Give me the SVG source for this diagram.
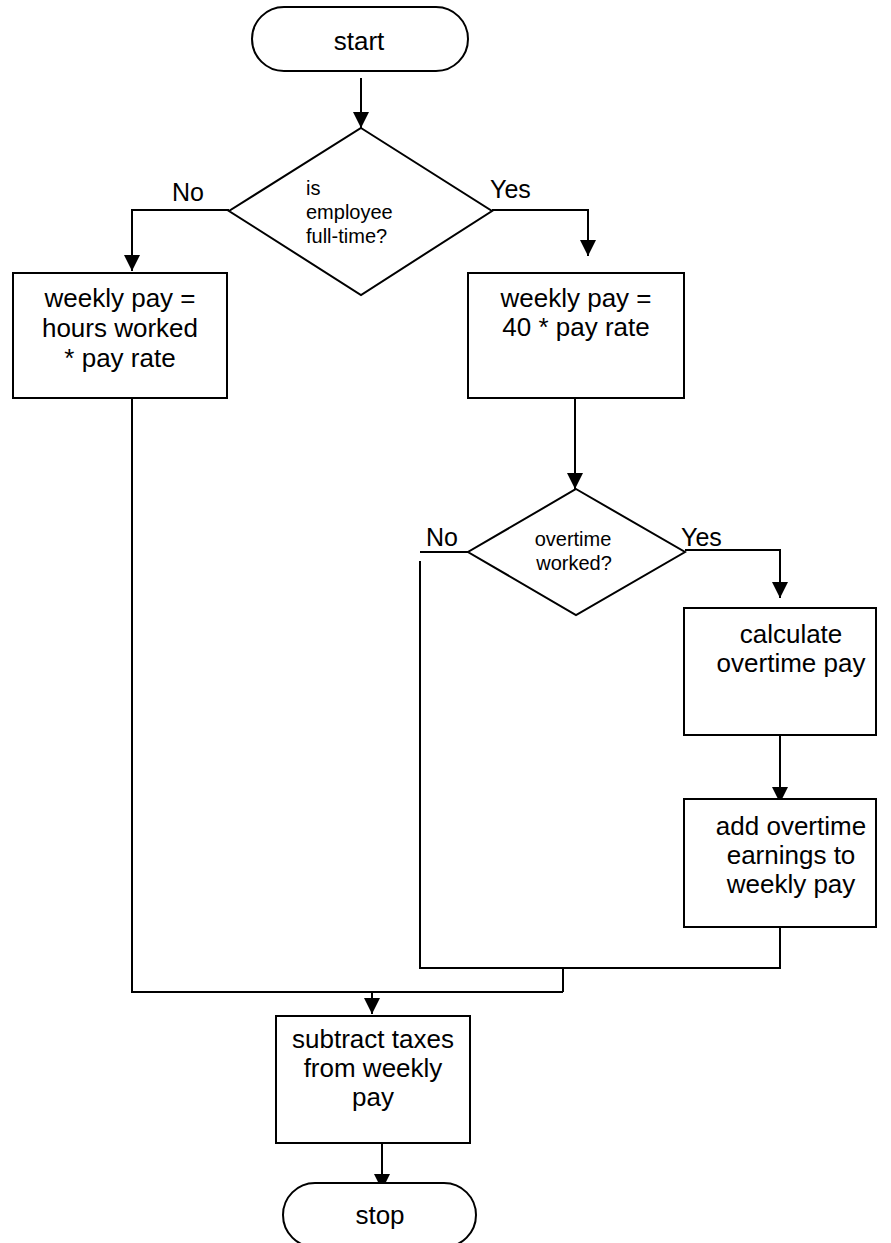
<svg xmlns="http://www.w3.org/2000/svg" width="891" height="1243" viewBox="0 0 891 1243">
  <style>
    .shape { fill: #ffffff; stroke: #000000; stroke-width: 2; }
    .line { fill: none; stroke: #000000; stroke-width: 2; }
    .txt { font-family: "Liberation Sans", Arial, sans-serif; font-size: 26px; fill: #000000; text-anchor: middle; }
    .small { font-family: "Liberation Sans", Arial, sans-serif; font-size: 20px; fill: #000000; }
    .label { font-family: "Liberation Sans", Arial, sans-serif; font-size: 25px; fill: #000000; }
  </style>
  <defs>
    <marker id="arrow" markerUnits="userSpaceOnUse" markerWidth="16" markerHeight="16" refX="16" refY="8" orient="auto">
      <path d="M0,0 L16,8 L0,16 z" fill="#000000"/>
    </marker>
  </defs>
  <rect width="891" height="1243" fill="#ffffff"/>

  <g id="connectors">
    <!-- start to decision -->
    <line class="line" x1="361" y1="78" x2="361" y2="128" marker-end="url(#arrow)"/>
    <!-- full-time? No -->
    <polyline class="line" points="229,210 132,210 132,271" marker-end="url(#arrow)"/>
    <!-- full-time? Yes -->
    <polyline class="line" points="492,210 588,210 588,256" marker-end="url(#arrow)"/>
    <!-- 40 * pay rate to overtime decision -->
    <line class="line" x1="575" y1="398" x2="575" y2="489" marker-end="url(#arrow)"/>
    <!-- overtime? Yes -->
    <polyline class="line" points="685,550 780,550 780,598" marker-end="url(#arrow)"/>
    <!-- overtime? No -->
    <line class="line" x1="468" y1="552" x2="420" y2="552"/>
    <polyline class="line" points="420,561 420,968 780,968 780,924"/>
    <!-- calculate to add -->
    <line class="line" x1="780" y1="735" x2="780" y2="803" marker-end="url(#arrow)"/>
    <!-- merge lines -->
    <line class="line" x1="563" y1="968" x2="563" y2="992"/>
    <polyline class="line" points="132,394 132,992 563,992"/>
    <line class="line" x1="372" y1="992" x2="372" y2="1014" marker-end="url(#arrow)"/>
    <!-- subtract to stop -->
    <line class="line" x1="382" y1="1143" x2="382" y2="1190" marker-end="url(#arrow)"/>
  </g>

  <g id="start">
    <rect class="shape" x="252" y="7" width="216" height="64" rx="32" ry="32"/>
    <text class="txt" x="359" y="50">start</text>
  </g>

  <g id="decision-fulltime">
    <polygon class="shape" points="361,128 492,211 361,295 229,211"/>
    <text class="small" x="306" y="195">is</text>
    <text class="small" x="306" y="219">employee</text>
    <text class="small" x="306" y="243">full-time?</text>
  </g>
  <text class="label" x="172" y="201">No</text>
  <text class="label" x="490" y="198">Yes</text>

  <g id="parttime-pay">
    <rect class="shape" x="13" y="273" width="214" height="125"/>
    <text class="txt" x="120" y="307">weekly pay =</text>
    <text class="txt" x="120" y="337">hours worked</text>
    <text class="txt" x="120" y="367">* pay rate</text>
  </g>

  <g id="fulltime-pay">
    <rect class="shape" x="468" y="273" width="216" height="125"/>
    <text class="txt" x="576" y="307">weekly pay =</text>
    <text class="txt" x="576" y="336">40 * pay rate</text>
  </g>

  <g id="decision-overtime">
    <polygon class="shape" points="576,489 685,552 576,615 468,552"/>
    <text class="small" x="573" y="546" text-anchor="middle">overtime</text>
    <text class="small" x="574" y="570" text-anchor="middle">worked?</text>
  </g>
  <text class="label" x="426" y="546">No</text>
  <text class="label" x="681" y="546">Yes</text>

  <g id="calculate-overtime">
    <rect class="shape" x="684" y="608" width="192" height="127"/>
    <text class="txt" x="791" y="643">calculate</text>
    <text class="txt" x="791" y="672">overtime pay</text>
  </g>

  <g id="add-overtime">
    <rect class="shape" x="684" y="799" width="192" height="128"/>
    <text class="txt" x="791" y="835">add overtime</text>
    <text class="txt" x="791" y="864">earnings to</text>
    <text class="txt" x="791" y="893">weekly pay</text>
  </g>

  <g id="subtract-taxes">
    <rect class="shape" x="276" y="1016" width="194" height="127"/>
    <text class="txt" x="373" y="1048">subtract taxes</text>
    <text class="txt" x="373" y="1077">from weekly</text>
    <text class="txt" x="373" y="1106">pay</text>
  </g>

  <g id="stop">
    <rect class="shape" x="283" y="1183" width="193" height="64" rx="32" ry="32"/>
    <text class="txt" x="380" y="1224">stop</text>
  </g>
</svg>
